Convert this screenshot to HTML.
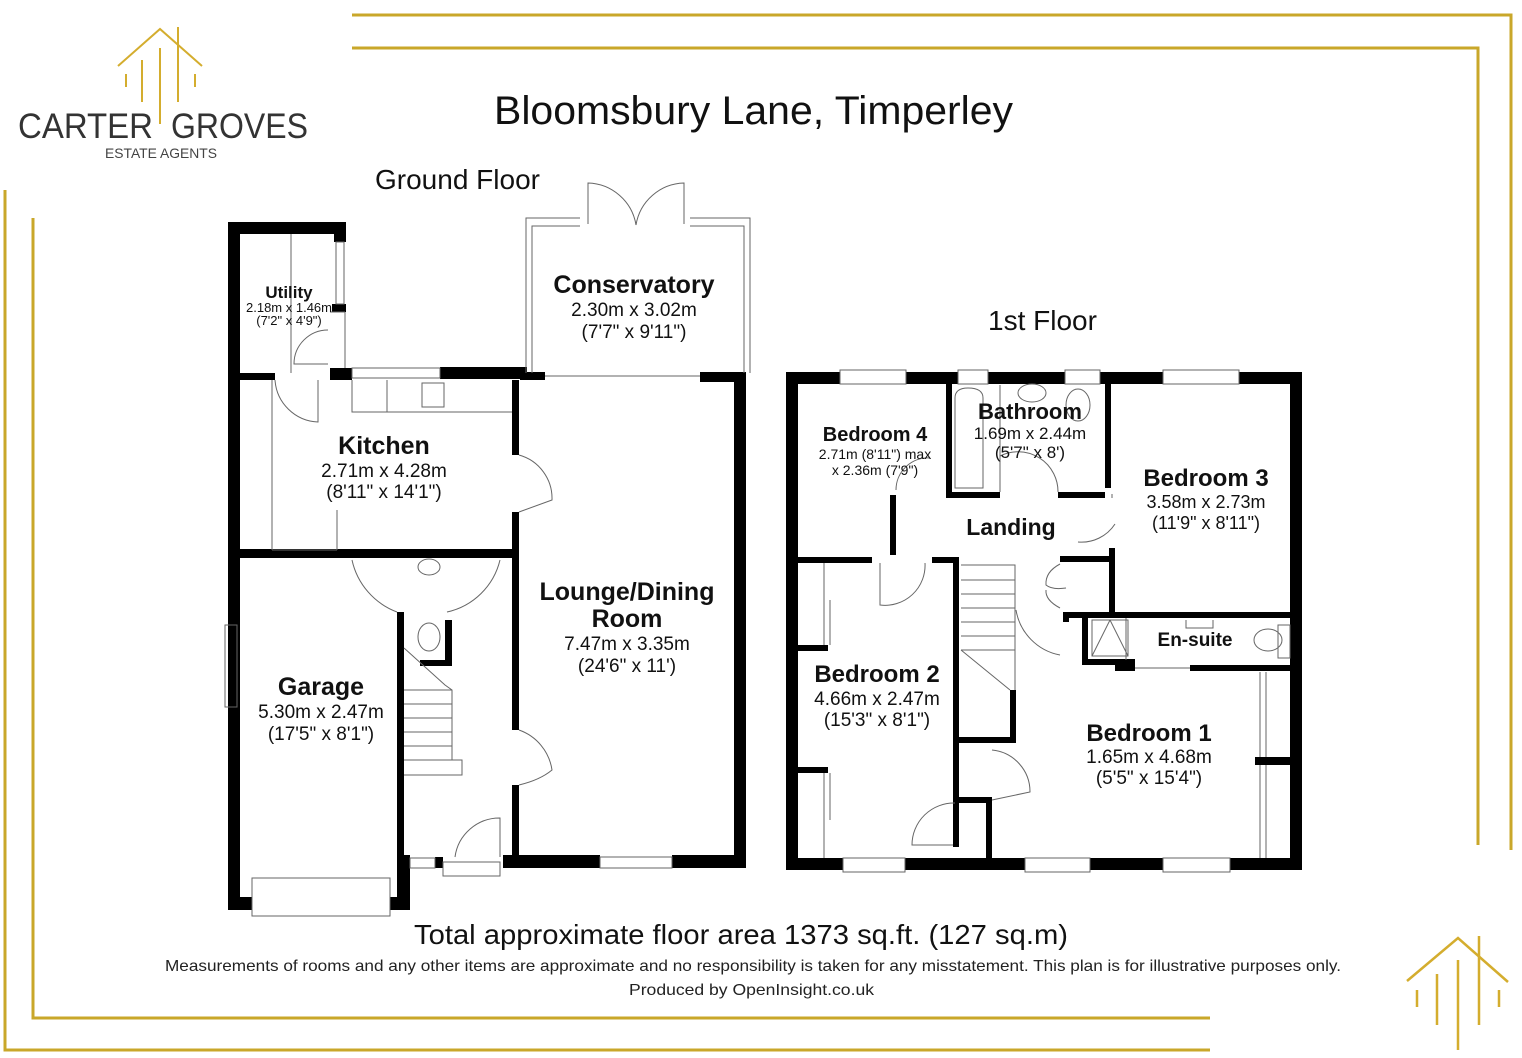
<!DOCTYPE html>
<html><head><meta charset="utf-8"><style>
html,body{margin:0;padding:0;background:#fff;}
body{width:1522px;height:1058px;overflow:hidden;position:relative;font-family:"Liberation Sans",sans-serif;}
svg{position:absolute;left:0;top:0;}
</style></head><body>
<svg width="1522" height="1058" viewBox="0 0 1522 1058" font-family="Liberation Sans, sans-serif">
<!-- gold borders -->
<g stroke="#c9a72a" stroke-width="3" fill="none">
<polyline points="352,15 1511,15 1511,850"/>
<polyline points="352,48 1478,48 1478,845"/>
<polyline points="5,190 5,1050 1210,1050"/>
<polyline points="33,218 33,1018 1210,1018"/>
</g>
<!-- logo -->
<g stroke="#d4ad2e" stroke-width="2" fill="none">
<polyline points="118,66 160,29 202,66"/>
<line x1="178" y1="27" x2="178" y2="102"/>
<line x1="160" y1="48" x2="160" y2="124"/>
<line x1="142" y1="60" x2="142" y2="102"/>
<line x1="126" y1="74" x2="126" y2="87"/>
<line x1="195" y1="74" x2="195" y2="87"/>
</g>
<text x="18" y="138" font-size="35" fill="#333" textLength="135" lengthAdjust="spacingAndGlyphs">CARTER</text>
<text x="171" y="138" font-size="35" fill="#333" textLength="137" lengthAdjust="spacingAndGlyphs">GROVES</text>
<text x="105" y="158" font-size="14" fill="#444" textLength="112" lengthAdjust="spacingAndGlyphs">ESTATE AGENTS</text>
<g stroke="#d4ad2e" stroke-width="2.5" fill="none">
<polyline points="1407,981 1458,938 1508,982"/>
<line x1="1479" y1="936" x2="1479" y2="1025"/>
<line x1="1458" y1="960" x2="1458" y2="1050"/>
<line x1="1437" y1="974" x2="1437" y2="1025"/>
<line x1="1417" y1="990" x2="1417" y2="1007"/>
<line x1="1499" y1="990" x2="1499" y2="1007"/>
</g>
<!-- titles -->
<text x="494" y="124" font-size="40" fill="#111" textLength="519" lengthAdjust="spacingAndGlyphs">Bloomsbury Lane, Timperley</text>
<text x="375" y="189" font-size="28" fill="#111">Ground Floor</text>
<text x="988" y="330" font-size="28" fill="#111">1st Floor</text>
<text x="414" y="944" font-size="28" fill="#111" textLength="654" lengthAdjust="spacingAndGlyphs">Total approximate floor area 1373 sq.ft. (127 sq.m)</text>
<text x="165" y="971" font-size="16" fill="#222" textLength="1176" lengthAdjust="spacingAndGlyphs">Measurements of rooms and any other items are approximate and no responsibility is taken for any misstatement. This plan is for illustrative purposes only.</text>
<text x="629" y="995" font-size="16" fill="#222" textLength="245" lengthAdjust="spacingAndGlyphs">Produced by OpenInsight.co.uk</text>

<!-- GROUND FLOOR walls -->
<g fill="#000">
<rect x="228" y="222" width="12" height="688"/>
<rect x="228" y="222" width="118" height="12"/>
<rect x="334" y="222" width="12" height="20"/>
<rect x="332" y="304" width="14" height="8"/>
<rect x="240" y="373" width="35" height="7"/>
<rect x="330" y="368" width="22" height="12"/>
<rect x="440" y="367" width="87" height="12"/>
<rect x="520" y="372" width="25" height="8"/>
<rect x="700" y="372" width="46" height="10"/>
<rect x="734" y="372" width="12" height="496"/>
<rect x="512" y="380" width="7" height="75"/>
<rect x="512" y="512" width="7" height="218"/>
<rect x="512" y="785" width="7" height="75"/>
<rect x="240" y="549" width="279" height="9"/>
<rect x="503" y="855" width="97" height="13"/>
<rect x="672" y="855" width="74" height="13"/>
<rect x="397" y="612" width="7" height="298"/>
<rect x="397" y="855" width="13" height="55"/>
<rect x="228" y="897" width="24" height="13"/>
<rect x="390" y="897" width="20" height="13"/>
<rect x="445" y="620" width="7" height="46"/>
<rect x="420" y="660" width="32" height="6"/>
<rect x="435" y="857" width="8" height="11"/>
</g>
<g fill="none" stroke="#666" stroke-width="1">
<!-- utility window -->
<rect x="336" y="242" width="8" height="62"/>
<line x1="291" y1="234" x2="291" y2="373"/>
<path d="M328,330 A 34 34 0 0 0 294,364 L328,364"/>
<line x1="330" y1="312" x2="345" y2="312"/><line x1="345" y1="312" x2="345" y2="368"/>
<path d="M275,380 A 45 45 0 0 0 318,422 L318,380"/>
<!-- kitchen window & units -->
<rect x="352" y="368" width="88" height="10"/>
<path d="M352,380 L352,412 L512,412"/>
<line x1="387" y1="380" x2="387" y2="412"/>
<rect x="422" y="383" width="22" height="24"/>
<line x1="272" y1="380" x2="272" y2="550"/>
<line x1="272" y1="550" x2="337" y2="550"/>
<line x1="337" y1="510" x2="337" y2="550"/>
<path d="M519,455 A 45 45 0 0 1 552,500 L519,512"/>
<!-- conservatory -->
<path d="M526,373 L526,218 L580,218 M690,218 L750,218 L750,373 M532,373 L532,226 L580,226 M690,226 L744,226 L744,373"/>
<line x1="545" y1="376" x2="700" y2="376"/>
<path d="M588,224 L588,183 A 50 50 0 0 1 636,225 M684,224 L684,183 A 50 50 0 0 0 636,225"/>
<!-- WC arcs -->
<path d="M352,560 A 72 72 0 0 0 397,612 M500,560 A 70 70 0 0 1 447,612"/>
<ellipse cx="429" cy="567" rx="11" ry="8"/>
<ellipse cx="429" cy="637" rx="11" ry="14"/>
<!-- stairs -->
<path d="M404,648 L445,685 L452,690 L452,760 L462,760 L462,775 L404,775"/>
<line x1="404" y1="690" x2="452" y2="690"/><line x1="404" y1="704" x2="452" y2="704"/>
<line x1="404" y1="718" x2="452" y2="718"/><line x1="404" y1="732" x2="452" y2="732"/>
<line x1="404" y1="746" x2="452" y2="746"/><line x1="404" y1="760" x2="452" y2="760"/>
<path d="M519,730 A 50 50 0 0 1 552,770 Q540,780 519,785"/>
<!-- hall bottom -->
<rect x="410" y="858" width="25" height="10"/>
<rect x="443" y="862" width="57" height="14"/>
<path d="M500,857 L500,818 A 45 45 0 0 0 455,857"/>
<rect x="600" y="857" width="72" height="11"/>
<rect x="225" y="625" width="12" height="82"/>
<rect x="252" y="878" width="138" height="38"/>
</g>
<!-- ground labels -->
<g fill="#111" text-anchor="middle">
<text x="289" y="298" font-size="17" font-weight="bold">Utility</text>
<text x="289" y="312" font-size="13">2.18m x 1.46m</text>
<text x="289" y="325" font-size="13">(7'2" x 4'9")</text>
<text x="384" y="454" font-size="25" font-weight="bold">Kitchen</text>
<text x="384" y="477" font-size="19">2.71m x 4.28m</text>
<text x="384" y="498" font-size="19">(8'11" x 14'1")</text>
<text x="634" y="293" font-size="25" font-weight="bold">Conservatory</text>
<text x="634" y="316" font-size="19">2.30m x 3.02m</text>
<text x="634" y="338" font-size="19">(7'7" x 9'11")</text>
<text x="627" y="600" font-size="25" font-weight="bold">Lounge/Dining</text>
<text x="627" y="627" font-size="25" font-weight="bold">Room</text>
<text x="627" y="650" font-size="19">7.47m x 3.35m</text>
<text x="627" y="672" font-size="19">(24'6" x 11')</text>
<text x="321" y="695" font-size="25" font-weight="bold">Garage</text>
<text x="321" y="718" font-size="19">5.30m x 2.47m</text>
<text x="321" y="740" font-size="19">(17'5" x 8'1")</text>
</g>

<!-- FIRST FLOOR -->
<g fill="#000">
<rect x="786" y="372" width="516" height="12"/>
<rect x="786" y="858" width="516" height="12"/>
<rect x="786" y="372" width="12" height="498"/>
<rect x="1290" y="372" width="12" height="498"/>
<rect x="946" y="384" width="6" height="114"/>
<rect x="946" y="492" width="54" height="6"/>
<rect x="1058" y="492" width="47" height="6"/>
<rect x="1105" y="384" width="6" height="104"/>
<rect x="1109" y="548" width="6" height="70"/>
<rect x="1060" y="556" width="52" height="6"/>
<rect x="1063" y="612" width="227" height="6"/>
<rect x="1063" y="612" width="6" height="10"/>
<rect x="890" y="495" width="6" height="60"/>
<rect x="798" y="557" width="74" height="6"/>
<rect x="932" y="557" width="27" height="6"/>
<rect x="953" y="557" width="6" height="290"/>
<rect x="1010" y="690" width="6" height="53"/>
<rect x="959" y="737" width="57" height="6"/>
<rect x="959" y="797" width="33" height="6"/>
<rect x="986" y="800" width="6" height="60"/>
<rect x="1082" y="618" width="6" height="47"/>
<rect x="1082" y="659" width="53" height="6"/>
<rect x="1115" y="659" width="20" height="12"/>
<rect x="1190" y="665" width="100" height="6"/>
<rect x="1255" y="757" width="47" height="8"/>
<rect x="798" y="645" width="30" height="6"/>
<rect x="798" y="767" width="30" height="6"/>
</g>
<g fill="#fff" stroke="#666" stroke-width="1">
<rect x="840" y="370" width="66" height="14"/>
<rect x="958" y="370" width="30" height="14"/>
<rect x="1065" y="370" width="35" height="14"/>
<rect x="1163" y="370" width="76" height="14"/>
<rect x="843" y="858" width="62" height="14"/>
<rect x="1025" y="858" width="65" height="14"/>
<rect x="1163" y="858" width="67" height="14"/>
</g>
<g fill="none" stroke="#666" stroke-width="1">
<path d="M955,398 Q955,388 968,388 Q983,388 983,398 L983,488 L955,488 Z"/>
<line x1="1000" y1="385" x2="1000" y2="492"/>
<ellipse cx="1032" cy="393" rx="14" ry="9"/>
<ellipse cx="1078" cy="405" rx="12" ry="16"/>
<path d="M1000,456 A 40 40 0 0 1 1058,492"/>
<path d="M896,490 A 32 32 0 0 1 930,458"/>
<path d="M1115,524 A 40 40 0 0 1 1078,542"/>
<line x1="1112" y1="494" x2="1112" y2="498"/>
<path d="M880,563 L880,605 A 40 40 0 0 0 925,563"/>
<line x1="824" y1="563" x2="824" y2="645"/><line x1="830" y1="600" x2="830" y2="645"/>
<line x1="824" y1="773" x2="824" y2="858"/><line x1="830" y1="773" x2="830" y2="820"/>
<!-- stairs -->
<path d="M961,565 L1015,565 L1015,690 M961,650 L1010,690"/>
<line x1="961" y1="580" x2="1015" y2="580"/><line x1="961" y1="594" x2="1015" y2="594"/>
<line x1="961" y1="608" x2="1015" y2="608"/><line x1="961" y1="622" x2="1015" y2="622"/>
<line x1="961" y1="636" x2="1015" y2="636"/><line x1="961" y1="650" x2="1015" y2="650"/>
<path d="M1016,610 A 55 55 0 0 0 1060,655"/>
<path d="M1060,564 Q1045,572 1046,585 Q1052,590 1066,588 M1060,608 Q1045,600 1046,590"/>
<path d="M992,750 A 42 42 0 0 1 1030,792 L992,800"/>
<path d="M953,845 L912,845 A 42 42 0 0 1 955,803"/>
<!-- ensuite -->
<rect x="1092" y="620" width="36" height="36"/>
<line x1="1092" y1="656" x2="1110" y2="620"/><line x1="1128" y1="656" x2="1110" y2="620"/>
<line x1="1126" y1="618" x2="1126" y2="660"/>
<ellipse cx="1268" cy="640" rx="14" ry="11"/>
<rect x="1278" y="625" width="12" height="33"/>
<path d="M1186,620 L1186,628 L1213,628 L1213,620"/>
<line x1="1135" y1="668" x2="1190" y2="668"/>
<line x1="1260" y1="672" x2="1260" y2="757"/><line x1="1266" y1="672" x2="1266" y2="757"/>
<line x1="1260" y1="765" x2="1260" y2="858"/><line x1="1266" y1="765" x2="1266" y2="858"/>
</g>
<g fill="#111" text-anchor="middle">
<text x="875" y="441" font-size="20" font-weight="bold">Bedroom 4</text>
<text x="875" y="459" font-size="14">2.71m (8'11") max</text>
<text x="875" y="475" font-size="14">x 2.36m (7'9")</text>
<text x="1030" y="419" font-size="22" font-weight="bold">Bathroom</text>
<text x="1030" y="439" font-size="17">1.69m x 2.44m</text>
<text x="1030" y="458" font-size="17">(5'7" x 8')</text>
<text x="1206" y="486" font-size="24" font-weight="bold">Bedroom 3</text>
<text x="1206" y="508" font-size="18">3.58m x 2.73m</text>
<text x="1206" y="529" font-size="18">(11'9" x 8'11")</text>
<text x="1011" y="535" font-size="23" font-weight="bold">Landing</text>
<text x="1195" y="646" font-size="19" font-weight="bold">En-suite</text>
<text x="877" y="682" font-size="24" font-weight="bold">Bedroom 2</text>
<text x="877" y="705" font-size="19">4.66m x 2.47m</text>
<text x="877" y="726" font-size="19">(15'3" x 8'1")</text>
<text x="1149" y="741" font-size="24" font-weight="bold">Bedroom 1</text>
<text x="1149" y="763" font-size="19">1.65m x 4.68m</text>
<text x="1149" y="784" font-size="19">(5'5" x 15'4")</text>
</g>
</svg>
</body></html>
